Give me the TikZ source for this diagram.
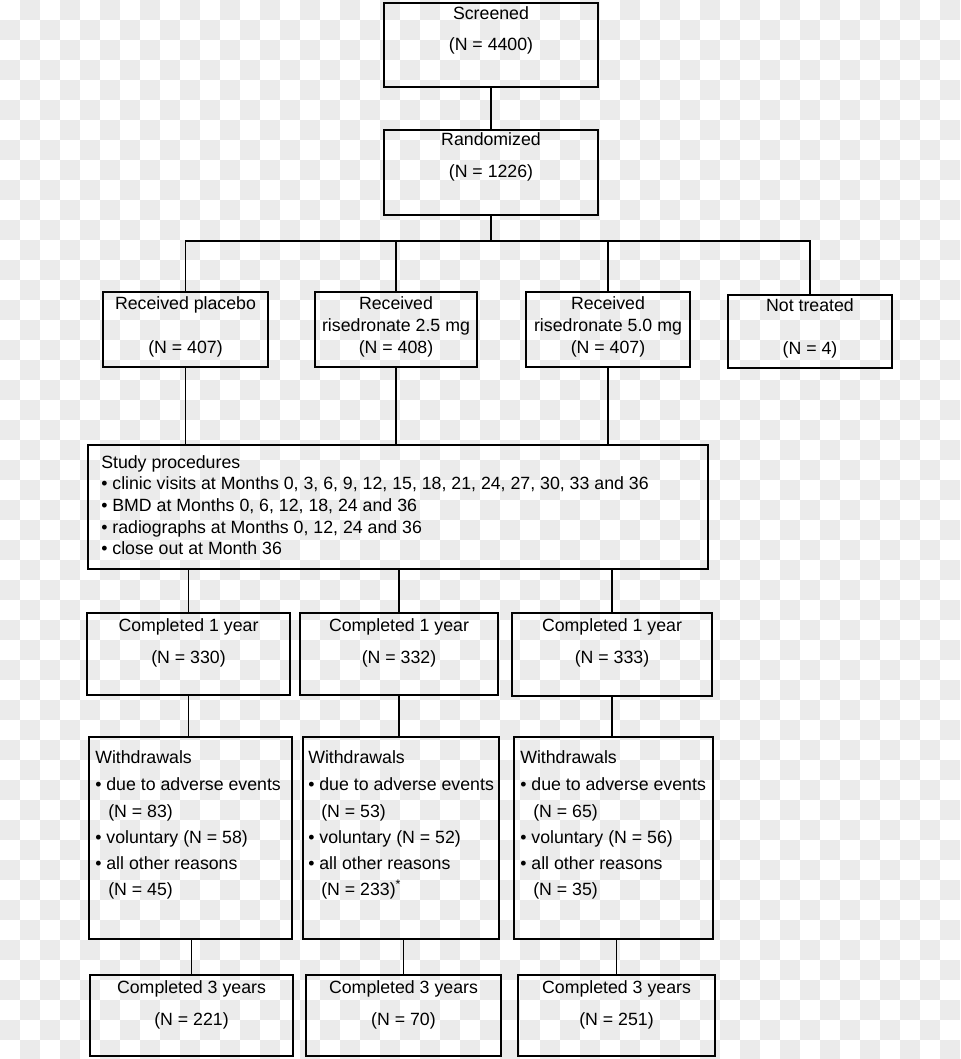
\documentclass[tikz,border=0pt]{standalone}
\usepackage{fontspec}
\setmainfont{Liberation Sans}
\usetikzlibrary{fit}
\definecolor{checkgray}{HTML}{EBEBEB}
\begin{document}
\begin{tikzpicture}[x=0.75pt,y=-0.75pt,
  box/.style={draw=black, line width=1.4pt, inner sep=0pt, fit={#1}},
  conn/.style={draw=black, line width=1.4pt},
  txt/.style={inner sep=0pt, anchor=base, font=\fontsize{13.3}{15}\selectfont},
  ltxt/.style={inner sep=0pt, anchor=base west, font=\fontsize{13.3}{15}\selectfont}]
\useasboundingbox (0,0) rectangle (960,1059);
% checkerboard background
\fill[white] (0,0) rectangle (960,1059);
\foreach \i in {0,2,...,46} \foreach \j in {1,3,...,53} \fill[checkgray] (\i*20,\j*20) rectangle ++(20,20);
\foreach \i in {1,3,...,47} \foreach \j in {0,2,...,52} \fill[checkgray] (\i*20,\j*20) rectangle ++(20,20);

% boxes
\node[box={(384,3)(598,87)}] (scr) {};
\node[box={(384,130)(598,215)}] (rand) {};
\node[box={(103,292)(268,367)}] (pl) {};
\node[box={(315,292)(477,367)}] (r25) {};
\node[box={(526,292)(690,367)}] (r50) {};
\node[box={(728,295)(892,368)}] (nt) {};
\node[box={(88,445)(708,569)}] (st) {};
\node[box={(87,613)(290,695)}] (c1a) {};
\node[box={(300,613)(498,695)}] (c1b) {};
\node[box={(512,613)(712,696)}] (c1c) {};
\node[box={(89,737)(292,939)}] (wa) {};
\node[box={(303,737)(499,939)}] (wb) {};
\node[box={(514,737)(713,939)}] (wc) {};
\node[box={(90,975)(293,1056)}] (c3a) {};
\node[box={(306,975)(501,1056)}] (c3b) {};
\node[box={(518,975)(715,1056)}] (c3c) {};

% texts
\node[txt] (scrA) at (491,20) {Screened};
\node[txt] (scrB) at (491,51) {(N = 4400)};
\node[txt] (randA) at (491,146) {Randomized};
\node[txt] (randB) at (491,178) {(N = 1226)};
\node[txt] (plA) at (185.5,309) {Received placebo};
\node[txt] (plB) at (185.5,353) {(N = 407)};
\node[txt] (r25A) at (396,309) {Received};
\node[txt] (r25B) at (396,331) {risedronate 2.5 mg};
\node[txt] (r25C) at (396,353) {(N = 408)};
\node[txt] (r50A) at (608,309) {Received};
\node[txt] (r50B) at (608,331) {risedronate 5.0 mg};
\node[txt] (r50C) at (608,353) {(N = 407)};
\node[txt] (ntA) at (810,311) {Not treated};
\node[txt] (ntB) at (810,354) {(N = 4)};

\node[ltxt] (stA) at (101,468) {Study procedures};
\node[ltxt] (stB) at (101,489) {• clinic visits at Months 0, 3, 6, 9, 12, 15, 18, 21, 24, 27, 30, 33 and 36};
\node[ltxt] (stC) at (101,511) {• BMD at Months 0, 6, 12, 18, 24 and 36};
\node[ltxt] (stD) at (101,533) {• radiographs at Months 0, 12, 24 and 36};
\node[ltxt] (stE) at (101,554) {• close out at Month 36};

\node[txt] (c1aA) at (188.5,631) {Completed 1 year};
\node[txt] (c1aB) at (188.5,663) {(N = 330)};
\node[txt] (c1bA) at (399,631) {Completed 1 year};
\node[txt] (c1bB) at (399,663) {(N = 332)};
\node[txt] (c1cA) at (612,631) {Completed 1 year};
\node[txt] (c1cB) at (612,663) {(N = 333)};

\node[ltxt] (waA) at (95,763) {Withdrawals};
\node[ltxt] (waB) at (95,790) {• due to adverse events};
\node[ltxt] (waC) at (108,817) {(N = 83)};
\node[ltxt] (waD) at (95,843) {• voluntary (N = 58)};
\node[ltxt] (waE) at (95,869) {• all other reasons};
\node[ltxt] (waF) at (108,895) {(N = 45)};

\node[ltxt] (wbA) at (308,763) {Withdrawals};
\node[ltxt] (wbB) at (308,790) {• due to adverse events};
\node[ltxt] (wbC) at (321,817) {(N = 53)};
\node[ltxt] (wbD) at (308,843) {• voluntary (N = 52)};
\node[ltxt] (wbE) at (308,869) {• all other reasons};
\node[ltxt] (wbF) at (321,895) {(N = 233)\textsuperscript{*}};

\node[ltxt] (wcA) at (520,763) {Withdrawals};
\node[ltxt] (wcB) at (520,790) {• due to adverse events};
\node[ltxt] (wcC) at (533,817) {(N = 65)};
\node[ltxt] (wcD) at (520,843) {• voluntary (N = 56)};
\node[ltxt] (wcE) at (520,869) {• all other reasons};
\node[ltxt] (wcF) at (533,895) {(N = 35)};

\node[txt] (c3aA) at (191.5,993) {Completed 3 years};
\node[txt] (c3aB) at (191.5,1025) {(N = 221)};
\node[txt] (c3bA) at (403.5,993) {Completed 3 years};
\node[txt] (c3bB) at (403.5,1025) {(N = 70)};
\node[txt] (c3cA) at (616.5,993) {Completed 3 years};
\node[txt] (c3cB) at (616.5,1025) {(N = 251)};

% connectors
\coordinate (bar) at (491,241);
\draw[conn] (scr.south) -- (rand.north);
\draw[conn] (rand.south) -- (bar);
\draw[conn] (pl.north) -- (pl.north |- bar) -- (nt.north |- bar) -- (nt.north);
\draw[conn] (r25.north) -- (r25.north |- bar);
\draw[conn] (r50.north) -- (r50.north |- bar);
\draw[conn] (pl.south) -- (pl.south |- st.north);
\draw[conn] (r25.south) -- (r25.south |- st.north);
\draw[conn] (r50.south) -- (r50.south |- st.north);
\draw[conn] (c1a.north) -- (c1a.north |- st.south);
\draw[conn] (c1b.north) -- (c1b.north |- st.south);
\draw[conn] (c1c.north) -- (c1c.north |- st.south);
\draw[conn] (c1a.south) -- (c1a.south |- wa.north);
\draw[conn] (c1b.south) -- (c1b.south |- wb.north);
\draw[conn] (c1c.south) -- (c1c.south |- wc.north);
\draw[conn] (c3a.north) -- (c3a.north |- wa.south);
\draw[conn] (c3b.north) -- (c3b.north |- wb.south);
\draw[conn] (c3c.north) -- (c3c.north |- wc.south);
\end{tikzpicture}
\end{document}
